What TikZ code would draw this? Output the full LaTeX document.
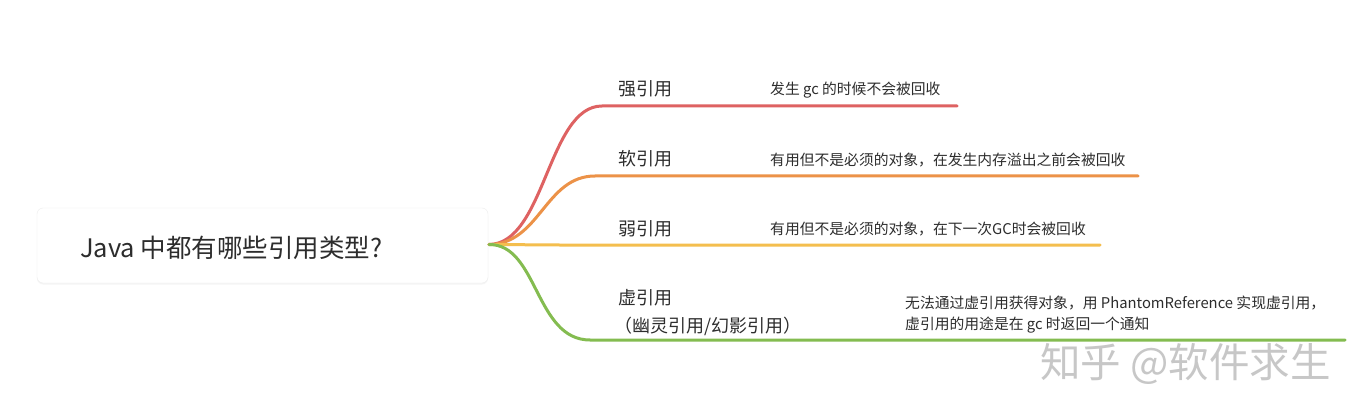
\documentclass[tikz,border=0pt]{standalone}
\usepackage{fontspec}
\setmainfont{Noto Sans CJK SC}
\usetikzlibrary{shadows}
\definecolor{cred}{RGB}{222,98,98}
\definecolor{corange}{RGB}{236,146,72}
\definecolor{cyellow}{RGB}{244,190,78}
\definecolor{cgreen}{RGB}{132,188,80}
\definecolor{ctext}{RGB}{45,45,45}
\tikzset{
  rootbox/.style={draw=black!7, fill=white, rounded corners=6pt, minimum width=451pt, minimum height=75pt, inner sep=0pt, drop shadow={opacity=0.08, shadow xshift=0pt, shadow yshift=-1.5pt}},
  roottext/.style={anchor=base west, inner sep=0pt, text=ctext, font=\fontsize{25.5}{30}\selectfont},
  lbl/.style={anchor=base west, inner sep=0pt, text=ctext, font=\fontsize{18}{28}\selectfont},
  desc/.style={anchor=base west, inner sep=0pt, text=ctext, font=\fontsize{14.8}{21}\selectfont, align=left},
  branch/.style={line width=3pt, line cap=round},
  wm/.style={anchor=base west, inner sep=0pt, text=black!22, font=\fontsize{40.5}{48}\selectfont}
}
\begin{document}
\begin{tikzpicture}[x=1pt,y=-1pt]
\useasboundingbox[fill=white] (0,0) rectangle (1366,417);
\node[rootbox] (root) at (262.5,245.5) {};
\node[roottext] (roottxt) at (80,257) {Java 中都有哪些引用类型?};
\coordinate (s) at (489,244.5);
\coordinate (e1) at (957,106);
\coordinate (e2) at (1138,176);
\coordinate (e3) at (1100,245);
\coordinate (e4) at (1345,340);
\draw[branch, cred] (s) .. controls (545,244) and (548,106) .. (602,106) -- (e1);
\draw[branch, corange] (s) .. controls (540,244) and (545,176) .. (595,176) -- (e2);
\draw[branch, cyellow] (s) .. controls (520,244.5) and (530,245) .. (560,245) -- (e3);
\draw[branch, cgreen] (s) .. controls (538,244) and (535,340) .. (590,340) -- (e4);
\node[lbl] (l1) at (618,96) {强引用};
\node[lbl] (l2) at (618,166) {软引用};
\node[lbl] (l3) at (618,235) {弱引用};
\node[lbl, align=left, anchor=north west] (l4) at (618,289) {虚引用\\\hspace*{-4pt}（幽灵引用/幻影引用）};
\node[desc] (d1) at (770,95) {发生 gc 的时候不会被回收};
\node[desc] (d2) at (770,165) {有用但不是必须的对象，在发生内存溢出之前会被回收};
\node[desc] (d3) at (770,234) {有用但不是必须的对象，在下一次GC时会被回收};
\node[desc, anchor=north west] (d4) at (905,296) {无法通过虚引用获得对象，用 PhantomReference 实现虚引用，\\虚引用的用途是在 gc 时返回一个通知};
\node[wm] (wm) at (1040,377) {知乎 @软件求生};
\end{tikzpicture}
\end{document}
